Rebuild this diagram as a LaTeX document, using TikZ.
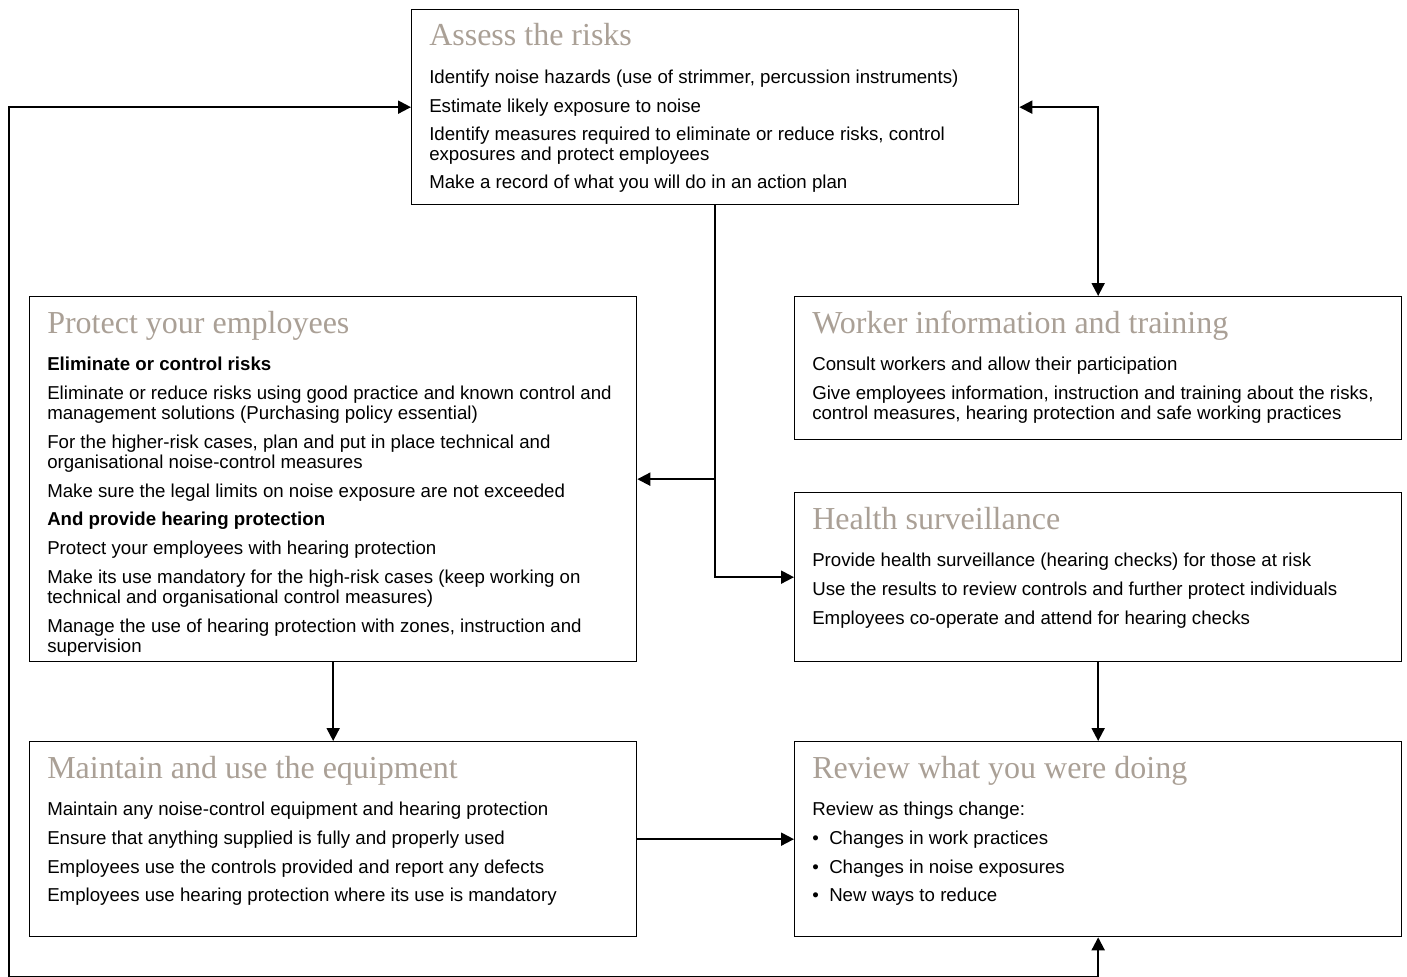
\documentclass[tikz,border=0pt]{standalone}
\usepackage{fontspec}
\setmainfont{Liberation Sans}
\newfontfamily\titlefont{Liberation Serif}
\usetikzlibrary{arrows.meta}
\definecolor{titlegrey}{RGB}{170,160,150}
\begin{document}
\begin{tikzpicture}[x=0.75pt,y=-0.75pt,
  box/.style={draw, line width=1pt, anchor=north west, inner sep=0pt, minimum width=455.25pt},
  boxtitle/.style={anchor=base west, inner sep=0pt, text=titlegrey, font=\titlefont\fontsize{24}{28}\selectfont},
  boxbody/.style={anchor=north west, inner sep=0pt, align=left, font=\fontsize{14}{15}\selectfont, execute at begin node=\strut},
  conn/.style={line width=1.5pt, -{Triangle[length=9.75pt,width=9.75pt]}},
  dconn/.style={line width=1.5pt, {Triangle[length=9.75pt,width=9.75pt]}-{Triangle[length=9.75pt,width=9.75pt]}}]
\fill[white] (0,0) rectangle (1407,977);
\useasboundingbox (0,0) rectangle (1407,977);

% boxes
\node[box, minimum height=146.25pt] (A) at (411,9) {};
\node[box, minimum height=273.75pt] (P) at (29,296) {};
\node[box, minimum height=107.25pt] (W) at (794,296) {};
\node[box, minimum height=126.75pt] (H) at (794,492) {};
\node[box, minimum height=146.25pt] (M) at (29,741) {};
\node[box, minimum height=146.25pt] (R) at (794,741) {};

% Assess
\node[boxtitle] (At) at (429,46) {Assess the risks};
\node[boxbody] (Ab) at (429,70) {Identify noise hazards (use of strimmer, percussion instruments)\\[6.3pt]
Estimate likely exposure to noise\\[6.3pt]
Identify measures required to eliminate or reduce risks, control\\
exposures and protect employees\\[6.3pt]
Make a record of what you will do in an action plan};

% Protect
\node[boxtitle] (Pt) at (47,333) {Protect your employees};
\node[boxbody] (Pb) at (47,357) {\textbf{Eliminate or control risks}\\[6.6pt]
Eliminate or reduce risks using good practice and known control and\\
management solutions (Purchasing policy essential)\\[6.6pt]
For the higher-risk cases, plan and put in place technical and\\
organisational noise-control measures\\[6.6pt]
Make sure the legal limits on noise exposure are not exceeded\\[6.6pt]
\textbf{And provide hearing protection}\\[6.6pt]
Protect your employees with hearing protection\\[6.6pt]
Make its use mandatory for the high-risk cases (keep working on\\
technical and organisational control measures)\\[6.6pt]
Manage the use of hearing protection with zones, instruction and\\
supervision};

% Worker information
\node[boxtitle] (Wt) at (812,333) {Worker information and training};
\node[boxbody] (Wb) at (812,357) {Consult workers and allow their participation\\[6.5pt]
Give employees information, instruction and training about the risks,\\
control measures, hearing protection and safe working practices};

% Health surveillance
\node[boxtitle] (Ht) at (812,529) {Health surveillance};
\node[boxbody] (Hb) at (812,553) {Provide health surveillance (hearing checks) for those at risk\\[6.5pt]
Use the results to review controls and further protect individuals\\[6.5pt]
Employees co-operate and attend for hearing checks};

% Maintain
\node[boxtitle] (Mt) at (47,778) {Maintain and use the equipment};
\node[boxbody] (Mb) at (47,802) {Maintain any noise-control equipment and hearing protection\\[6.5pt]
Ensure that anything supplied is fully and properly used\\[6.5pt]
Employees use the controls provided and report any defects\\[6.5pt]
Employees use hearing protection where its use is mandatory};

% Review
\node[boxtitle] (Rt) at (812,778) {Review what you were doing};
\node[boxbody] (Rb) at (812,802) {Review as things change:\\[6.5pt]
\makebox[12.75pt][l]{•}Changes in work practices\\[6.5pt]
\makebox[12.75pt][l]{•}Changes in noise exposures\\[6.5pt]
\makebox[12.75pt][l]{•}New ways to reduce};

% connectors
\draw[conn] (A.south) |- (H.west);
\draw[conn] (A.south |- P.east) -- (P.east);
\draw[dconn] (A.east) -| (W.north);
\draw[conn] (P.south) -- (M.north);
\draw[conn] (H.south) -- (R.north);
\draw[conn] (M.east) -- (R.west);
\coordinate (bl) at (9,977);
\draw[dconn] (R.south) -- (R.south |- bl) -- (bl) |- (A.west);
\end{tikzpicture}
\end{document}
